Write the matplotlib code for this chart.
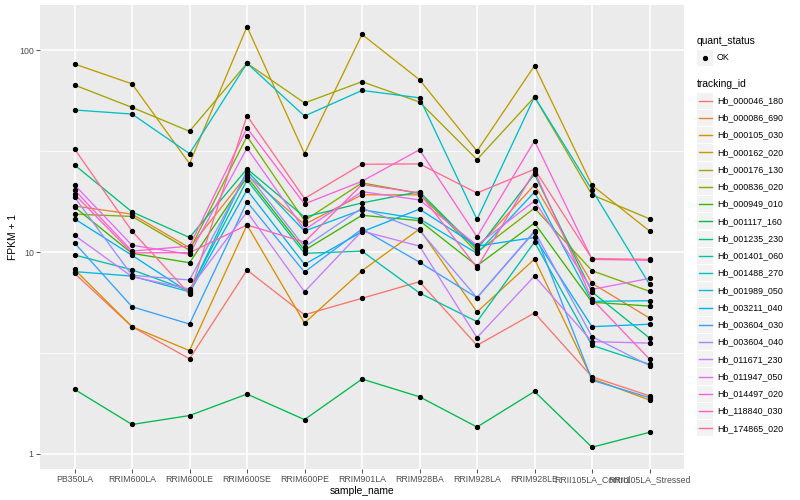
import matplotlib.pyplot as plt
from matplotlib.ticker import FixedLocator, NullFormatter
from matplotlib.patches import Rectangle

plt.rcParams['font.family'] = ['Liberation Sans', 'DejaVu Sans']

samples = ['PB350LA', 'RRIM600LA', 'RRIM600LE', 'RRIM600SE', 'RRIM600PE', 'RRIM901LA',
           'RRIM928BA', 'RRIM928LA', 'RRIM928LE', 'RRII105LA_Control', 'RRII105LA_Stressed']

tracking_ids = ['Hb_000046_180', 'Hb_000086_690', 'Hb_000105_030', 'Hb_000162_020',
                'Hb_000176_130', 'Hb_000836_020', 'Hb_000949_010', 'Hb_001117_160',
                'Hb_001235_230', 'Hb_001401_060', 'Hb_001488_270', 'Hb_001989_050',
                'Hb_003211_040', 'Hb_003604_030', 'Hb_003604_040', 'Hb_011671_230',
                'Hb_011947_050', 'Hb_014497_020', 'Hb_118840_030', 'Hb_174865_020']

# ggplot default hue palette for 20 levels
colors = ['#F8766D', '#EA8331', '#D89000', '#C09B00', '#A3A500', '#7CAE00', '#39B600',
          '#00BB4E', '#00BF7D', '#00C1A3', '#00BFC4', '#00BAE0', '#00B0F6', '#35A2FF',
          '#9590FF', '#C77CFF', '#E76BF3', '#FA62DB', '#FF62BC', '#FF6C91']

# FPKM + 1, one list per gene, in sample order
hb_000046_180 = [7.85, 4.27, 2.96, 8.14, 4.89, 5.9, 7.13, 3.45, 4.99, 2.41, 1.94]
hb_000086_690 = [16.9, 15.4, 10.5, 24.1, 13.7, 19.2, 19.2, 10.5, 21.5, 7.0, 4.71]
hb_000105_030 = [8.2, 4.27, 3.25, 13.6, 4.45, 8.08, 13.0, 5.05, 9.23, 2.36, 1.85]
hb_000162_020 = [85.3, 68, 27.4, 130.5, 30.7, 119.5, 71.3, 31.6, 83.6, 21.4, 12.7]
hb_000176_130 = [67.1, 52, 39.6, 86, 54.7, 69.7, 55.3, 28.7, 58.5, 19.2, 14.6]
hb_000836_020 = [15.4, 15.0, 10.2, 37.4, 14.3, 22.0, 19.5, 9.97, 16.5, 8.08, 6.39]
hb_000949_010 = [16.7, 9.85, 8.85, 23.5, 10.2, 15.2, 14.3, 8.55, 13.9, 5.64, 5.40]
hb_001117_160 = [2.09, 1.40, 1.55, 1.98, 1.48, 2.35, 1.92, 1.36, 2.04, 1.08, 1.28]
hb_001235_230 = [27.0, 15.8, 11.8, 25.8, 14.9, 17.5, 19.9, 10.3, 24.3, 6.34, 3.75]
hb_001401_060 = [9.67, 8.17, 6.43, 22.7, 9.85, 10.1, 6.27, 4.52, 11.2, 3.45, 2.78]
hb_001488_270 = [50.5, 48.2, 30.7, 86, 47.1, 63.1, 58, 14.5, 58.7, 20.3, 6.92]
hb_001989_050 = [8.0, 7.6, 6.35, 25.2, 12.7, 16.2, 14.6, 9.85, 19.8, 5.7, 5.74]
hb_003211_040 = [14.6, 9.63, 6.29, 20.3, 8.69, 12.6, 16.3, 10.7, 11.8, 4.27, 4.39]
hb_003604_030 = [11.1, 5.36, 4.40, 17.7, 7.96, 13.0, 8.9, 5.94, 12.6, 2.32, 1.90]
hb_003604_040 = [18.7, 7.67, 7.27, 24.5, 10.6, 16.5, 12.8, 5.94, 12.7, 3.81, 2.74]
hb_011671_230 = [12.1, 7.55, 6.56, 15.8, 6.36, 12.7, 10.7, 3.77, 7.6, 3.60, 3.54]
hb_011947_050 = [21.5, 10.8, 9.75, 32.7, 12.9, 19.9, 18.1, 10.8, 17.9, 6.53, 7.4]
hb_014497_020 = [20.3, 10.1, 10.7, 41.1, 17.3, 22.4, 32.1, 11.9, 35.5, 9.2, 9.1]
hb_118840_030 = [19.3, 9.9, 9.93, 13.6, 11.2, 21.6, 19.6, 8.36, 25.1, 5.85, 2.95]
hb_174865_020 = [32.4, 12.7, 6.19, 47.3, 18.4, 27.2, 27.3, 19.6, 25.7, 9.27, 9.2]

series = [hb_000046_180, hb_000086_690, hb_000105_030, hb_000162_020, hb_000176_130,
          hb_000836_020, hb_000949_010, hb_001117_160, hb_001235_230, hb_001401_060,
          hb_001488_270, hb_001989_050, hb_003211_040, hb_003604_030, hb_003604_040,
          hb_011671_230, hb_011947_050, hb_014497_020, hb_118840_030, hb_174865_020]

fig = plt.figure(figsize=(8, 5), dpi=100)
ax = fig.add_axes([40 / 800, 1 - 468.7 / 500, (684 - 40) / 800, (468.7 - 5) / 500])
ax.set_facecolor('#EBEBEB')

x = list(range(len(samples)))
for vals, col in zip(series, colors):
    ax.plot(x, vals, color=col, lw=0.95, zorder=2)
for vals in series:
    ax.plot(x, vals, ls='none', marker='o', ms=2.8, color='black', zorder=3)

ax.set_yscale('log')
ax.set_xlim(-0.6, len(samples) - 0.4)
ax.set_ylim(10 ** -0.0728, 10 ** 2.223)
ax.set_xticks(x)
ax.set_xticklabels(samples)
ax.set_yticks([1, 10, 100])
ax.set_yticklabels(['1', '10', '100'])
ax.yaxis.set_minor_locator(FixedLocator([10 ** 0.5, 10 ** 1.5]))
ax.yaxis.set_minor_formatter(NullFormatter())
ax.tick_params(which='minor', length=0)
ax.tick_params(which='major', length=3, width=0.6, color='#333333',
               labelsize=6.3, labelcolor='#4D4D4D', pad=1.5)

ax.grid(which='major', color='white', lw=1.1, zorder=0)
ax.grid(which='minor', axis='y', color='white', lw=0.55, zorder=0)
ax.set_axisbelow(True)
for s in ax.spines.values():
    s.set_visible(False)

ax.set_xlabel('sample_name', fontsize=7.4, va='center')
ax.xaxis.set_label_coords(0.5, -(490.5 - 468.7) / 463.7)
ax.set_ylabel('FPKM + 1', fontsize=7.4, va='center')
ax.yaxis.set_label_coords(-(40 - 13) / 644, 0.5)

# legend, drawn in pixel coordinates
lg = fig.add_axes([0, 0, 1, 1], facecolor='none')
lg.set_xlim(0, 800)
lg.set_ylim(500, 0)
lg.axis('off')

lg.text(697, 40.5, 'quant_status', fontsize=7.4, va='center', ha='left')
lg.add_patch(Rectangle((697, 49.5), 16, 16, color='#F2F2F2', lw=0))
lg.plot([705], [57.5], marker='o', ms=2.8, color='black')
lg.text(717, 57.5, 'OK', fontsize=6.4, va='center', ha='left', color='black')

lg.text(697, 84, 'tracking_id', fontsize=7.4, va='center', ha='left')
for i, (tid, col) in enumerate(zip(tracking_ids, colors)):
    yc = 100.7 + i * 17.24
    lg.add_patch(Rectangle((697, yc - 8.1), 16, 16.2, color='#F2F2F2', lw=0))
    lg.plot([698.5, 711.5], [yc, yc], color=col, lw=1.0)
    lg.text(717, yc, tid, fontsize=6.4, va='center', ha='left')

fig.savefig('out.png', dpi=100)
